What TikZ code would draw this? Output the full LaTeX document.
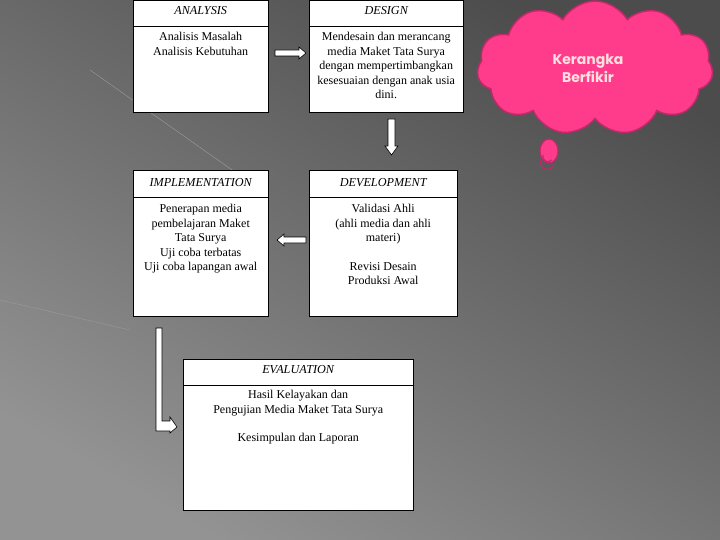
\documentclass[tikz,border=0pt]{standalone}
\usepackage{fontspec}
\setmainfont{Liberation Serif}
\newfontfamily\cloudfont{Poppins}
\usetikzlibrary{shapes.symbols}
\definecolor{pinkc}{HTML}{FF3C8C}
\definecolor{pinkd}{HTML}{C02A68}
\tikzset{
 stage/.style={draw=black,fill=white,anchor=north west,inner sep=0pt},
 head/.style={font=\fontsize{12.2}{13}\selectfont\itshape,anchor=center},
 body/.style={font=\fontsize{12}{14.5}\selectfont,align=center,anchor=north},
 blockarrow/.style={draw=black,fill=white,line width=0.6pt},
}
\begin{document}
\begin{tikzpicture}[x=1pt,y=-1pt]
\shade[bottom color=gray!85!white,top color=black!70!white,shading angle=-30] (0,0) rectangle (720,540);
\useasboundingbox (0,0) rectangle (720,540);
\draw[white!60!gray,opacity=0.5] (90,70) -- (235,172);
\draw[white!60!gray,opacity=0.3] (0,300) -- (130,330);
% boxes
\node[stage,minimum width=135,minimum height=112] (A) at (133,0) {};
\node[stage,minimum width=154,minimum height=112] (D) at (309,0) {};
\node[stage,minimum width=135,minimum height=146] (I) at (133,170) {};
\node[stage,minimum width=148,minimum height=146] (V) at (309,170) {};
\node[stage,minimum width=230,minimum height=151] (E) at (183,359) {};
\draw ([yshift=-26]A.north west) -- ([yshift=-26]A.north east);
\draw ([yshift=-26]D.north west) -- ([yshift=-26]D.north east);
\draw ([yshift=-27]I.north west) -- ([yshift=-27]I.north east);
\draw ([yshift=-27]V.north west) -- ([yshift=-27]V.north east);
\draw ([yshift=-26]E.north west) -- ([yshift=-26]E.north east);
\node[head] at ([yshift=-11]A.north) {ANALYSIS};
\node[head] at ([yshift=-11]D.north) {DESIGN};
\node[head] at ([yshift=-13]I.north) {IMPLEMENTATION};
\node[head] at ([yshift=-13]V.north) {DEVELOPMENT};
\node[head] at ([yshift=-11]E.north) {EVALUATION};
\node[body] at ([yshift=-29]A.north) {Analisis Masalah\\Analisis Kebutuhan};
\node[body] at ([yshift=-29]D.north) {Mendesain dan merancang\\media Maket Tata Surya\\dengan mempertimbangkan\\kesesuaian dengan anak usia\\dini.};
\node[body] at ([yshift=-31]I.north) {Penerapan media\\pembelajaran Maket\\Tata Surya\\Uji coba terbatas\\Uji coba lapangan awal};
\node[body] at ([yshift=-31]V.north) {Validasi Ahli\\(ahli media dan ahli\\materi)\\[14pt]Revisi Desain\\Produksi Awal};
\node[body] at ([yshift=-28]E.north) {Hasil Kelayakan dan\\Pengujian Media Maket Tata Surya\\[14pt]Kesimpulan dan Laporan};
% block arrows
\draw[blockarrow] (275,50) -- (299,50) -- (299,47) -- (306,53) -- (299,59) -- (299,56) -- (275,56) -- cycle;
\draw[blockarrow] (388,119) -- (395,119) -- (395,146) -- (398,146) -- (391.5,155) -- (385,146) -- (388,146) -- cycle;
\draw[blockarrow] (306,237) -- (284,237) -- (284,234) -- (277,240) -- (284,246) -- (284,243) -- (306,243) -- cycle;
\draw[blockarrow] (156,328) -- (162,328) -- (162,421) -- (170,421) -- (170,417) -- (177,427) -- (170,433) -- (170,431) -- (156,431) -- cycle;
% cloud
\node[cloud,cloud puffs=11,cloud puff arc=120,aspect=1.9,fill=pinkc,draw=pinkd,line width=1.5pt,minimum width=236,minimum height=134] (C) at (595,68) {};
\node[font=\cloudfont\bfseries\fontsize{14}{18}\selectfont,text=pink!50!white,align=center] at (588,68) {Kerangka\\Berfikir};
\draw[fill=pinkc,draw=pinkd,line width=1.2pt] (549,151) ellipse (9 and 12);
\draw[pinkd,line width=1.2pt] (543,155) arc (200:40:5);
\draw[pinkd,line width=1.2pt] (541,160) arc (200:30:7);
\end{tikzpicture}
\end{document}
